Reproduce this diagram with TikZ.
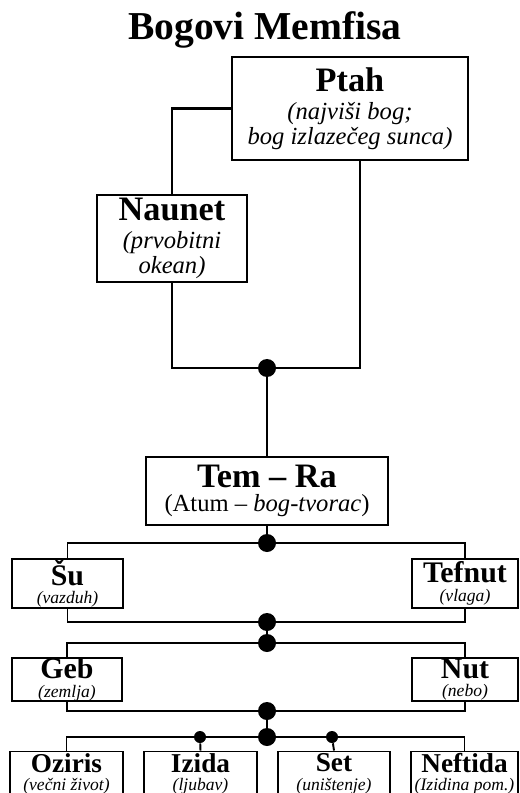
\documentclass[tikz,border=0pt]{standalone}
\usepackage{fontspec}
\setmainfont{Liberation Serif}

\newcommand{\bigname}[1]{{\fontsize{19.5}{20}\selectfont\bfseries #1}}
\newcommand{\midname}[1]{{\fontsize{17}{18}\selectfont\bfseries #1}}
\newcommand{\lowname}[1]{{\fontsize{15.5}{16}\selectfont\bfseries #1}}
\newcommand{\gloss}[1]{{\itshape #1}}

\tikzset{
  elder/.style={draw, line width=1.6pt, fill=white, inner sep=0pt, align=center,
    font=\fontsize{14}{14}\selectfont},
  god/.style={draw, line width=1.1pt, fill=white, inner sep=0pt, align=center,
    font=\fontsize{10}{10.5}\selectfont},
  dot/.style={circle, fill=black, inner sep=0pt, minimum size=3.6mm},
  pip/.style={circle, fill=black, inner sep=0pt, minimum size=2.4mm},
}

\begin{document}
\begin{tikzpicture}
  \useasboundingbox (0,0) rectangle (10.38,-15.86);
  \clip (0,0) rectangle (10.38,-15.86);

  \node [anchor=base] (title) at (5.3,-0.8) {\fontsize{22.5}{24}\selectfont\bfseries Bogovi Memfisa};

  \node [elder, minimum width=4.72cm, minimum height=2.06cm] (ptah)   at (7.0, -2.17)  {\bigname{Ptah}\\[2pt]\gloss{(najviši bog;}\\\gloss{bog izlazečeg sunca)}};
  \node [elder, minimum width=3.0cm,  minimum height=1.74cm] (naunet) at (3.44,-4.77)  {\bigname{Naunet}\\[2pt]\gloss{(prvobitni}\\\gloss{okean)}};
  \node [elder, minimum width=4.84cm, minimum height=1.36cm, line width=1.1pt] (temra) at (5.34,-9.82) {\bigname{Tem – Ra}\\(Atum – \textit{bog-tvorac})};

  \node [god, minimum width=2.22cm, minimum height=0.98cm] (su)      at (1.35,-11.67) {\midname{Šu}\\\gloss{(vazduh)}};
  \node [god, minimum width=2.12cm, minimum height=0.98cm] (tefnut)  at (9.30,-11.67) {\midname{Tefnut}\\\gloss{(vlaga)}};
  \node [god, minimum width=2.20cm, minimum height=0.86cm] (geb)     at (1.34,-13.59) {\midname{Geb}\\\gloss{(zemlja)}};
  \node [god, minimum width=2.12cm, minimum height=0.86cm] (nut)     at (9.30,-13.59) {\midname{Nut}\\\gloss{(nebo)}};
  \node [god, minimum width=2.26cm, minimum height=0.90cm] (oziris)  at (1.33,-15.48) {\lowname{Oziris}\\\gloss{(večni život)}};
  \node [god, minimum width=2.26cm, minimum height=0.90cm] (izida)   at (4.01,-15.48) {\lowname{Izida}\\\gloss{(ljubav)}};
  \node [god, minimum width=2.24cm, minimum height=0.90cm] (set)     at (6.68,-15.48) {\lowname{Set}\\\gloss{(uništenje)}};
  \node [god, minimum width=2.14cm, minimum height=0.90cm] (neftida) at (9.29,-15.48) {\lowname{Neftida}\\\gloss{(Izidina pom.)}};

  \node [dot] (join)  at (5.34,-7.36)  {};
  \node [dot] (d1)    at (5.34,-10.86) {};
  \node [dot] (d2)    at (5.34,-12.44) {};
  \node [dot] (d3)    at (5.34,-12.86) {};
  \node [dot] (d4)    at (5.34,-14.22) {};
  \node [dot] (d5)    at (5.34,-14.74) {};
  \node [pip] (p1)    at (4.00,-14.74) {};
  \node [pip] (p2)    at (6.64,-14.74) {};

  \draw [line width=1.6pt] (ptah.west) -| (naunet.north);
  \draw [line width=1.6pt] (naunet.south) |- (join) -| ([xshift=0.2cm]ptah.south);
  \draw [line width=1.6pt] (join) -- (temra.north);

  \draw [line width=1.1pt] (temra.south) -- (d1);
  \draw [line width=1.1pt] (su.north) |- (d1) -| (tefnut.north);
  \draw [line width=1.1pt] (su.south) |- (d2) -| (tefnut.south);
  \draw [line width=1.1pt] (d2) -- (d3);
  \draw [line width=1.1pt] (geb.north) |- (d3) -| (nut.north);
  \draw [line width=1.1pt] (geb.south) |- (d4) -| (nut.south);
  \draw [line width=1.1pt] (d4) -- (d5);
  \draw [line width=1.1pt] (oziris.north) |- (p1) -- (d5) -- (p2) -| (neftida.north);
  \draw [line width=1.1pt] (p1) -- (izida.north);
  \draw [line width=1.1pt] (p2) -- (set.north);
\end{tikzpicture}
\end{document}
